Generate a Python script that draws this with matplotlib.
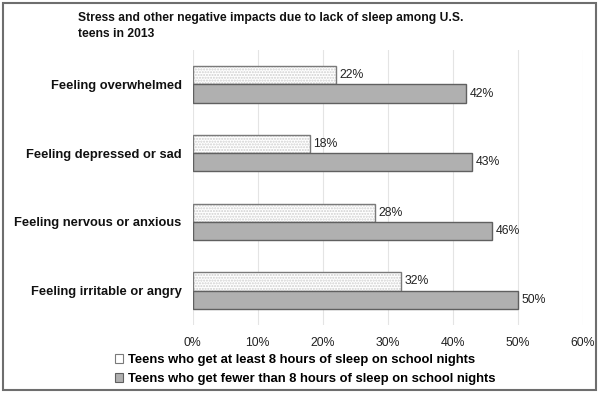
import numpy as np
import matplotlib
matplotlib.use("Agg")
import matplotlib.pyplot as plt
from matplotlib.patches import Rectangle, Patch

plt.rcParams['font.family'] = ['Liberation Sans', 'DejaVu Sans']

categories = ['Feeling overwhelmed', 'Feeling depressed or sad',
              'Feeling nervous or anxious', 'Feeling irritable or angry']
at_least_8 = [22, 18, 28, 32]
fewer_than_8 = [42, 43, 46, 50]
xticks = [0, 10, 20, 30, 40, 50, 60]
title_lines = ['Stress and other negative impacts due to lack of sleep among U.S.',
               'teens in 2013']
legend_labels = ['Teens who get at least 8 hours of sleep on school nights',
                 'Teens who get fewer than 8 hours of sleep on school nights']

fig = plt.figure(figsize=(6, 3.93), dpi=100)
ax = fig.add_axes([192.7 / 600, 1 - 325 / 393, 390 / 600, 275 / 393])

y = np.arange(len(categories))
h = 0.266

# light bars: dotted fill then outline
ax.barh(y - h / 2, at_least_8, height=h, color='white', edgecolor='#cfcfcf',
        hatch='......', linewidth=0, zorder=2)
ax.barh(y - h / 2, at_least_8, height=h, fill=False, edgecolor='#7a7a7a',
        linewidth=1.0, zorder=3)
ax.barh(y + h / 2, fewer_than_8, height=h, color='#b0b0b0', edgecolor='#606060',
        linewidth=1.0, zorder=3)

for i in range(len(categories)):
    ax.text(at_least_8[i] + 0.6, y[i] - h / 2, f'{at_least_8[i]}%', va='center',
            ha='left', fontsize=8.8, color='#222222')
    ax.text(fewer_than_8[i] + 0.6, y[i] + h / 2, f'{fewer_than_8[i]}%', va='center',
            ha='left', fontsize=8.8, color='#222222')

ax.set_xlim(0, 60)
ax.set_ylim(3.5, -0.5)
ax.set_xticks(xticks)
ax.set_xticklabels([f'{t}%' for t in xticks], fontsize=8.8, color='#222222')
ax.set_yticks(y)
ax.set_yticklabels(categories, fontsize=9.3, fontweight='bold', color='#111111')
ax.tick_params(axis='both', length=0)
ax.tick_params(axis='x', pad=9)
ax.tick_params(axis='y', pad=8)
ax.grid(axis='x', color='#e4e4e4', linewidth=0.8, zorder=0)
ax.set_axisbelow(True)
for s in ax.spines.values():
    s.set_visible(False)

fig.text(78 / 600, 1 - 21.5 / 393, title_lines[0], ha='left', va='baseline',
         fontsize=8.7, fontweight='bold', color='#111111')
fig.text(78 / 600, 1 - 37.3 / 393, title_lines[1], ha='left', va='baseline',
         fontsize=8.7, fontweight='bold', color='#111111')

handles = [Patch(facecolor='white', edgecolor='#7a7a7a', linewidth=0.8),
           Patch(facecolor='#b0b0b0', edgecolor='#606060', linewidth=0.8)]
fig.legend(handles, legend_labels, loc='upper left', bbox_to_anchor=(115 / 600, 1 - 354 / 393),
           frameon=False, handlelength=0.65, handleheight=0.65, handletextpad=0.35,
           labelspacing=0.55, borderpad=0, borderaxespad=0,
           prop={'size': 9.4, 'weight': 'bold'})

fig.patches.append(Rectangle((3 / 600, 3 / 393), 593 / 600, 387 / 393,
                             transform=fig.transFigure, fill=False,
                             edgecolor='#6e6e6e', linewidth=1.5))

fig.savefig('out.png', dpi=100)
